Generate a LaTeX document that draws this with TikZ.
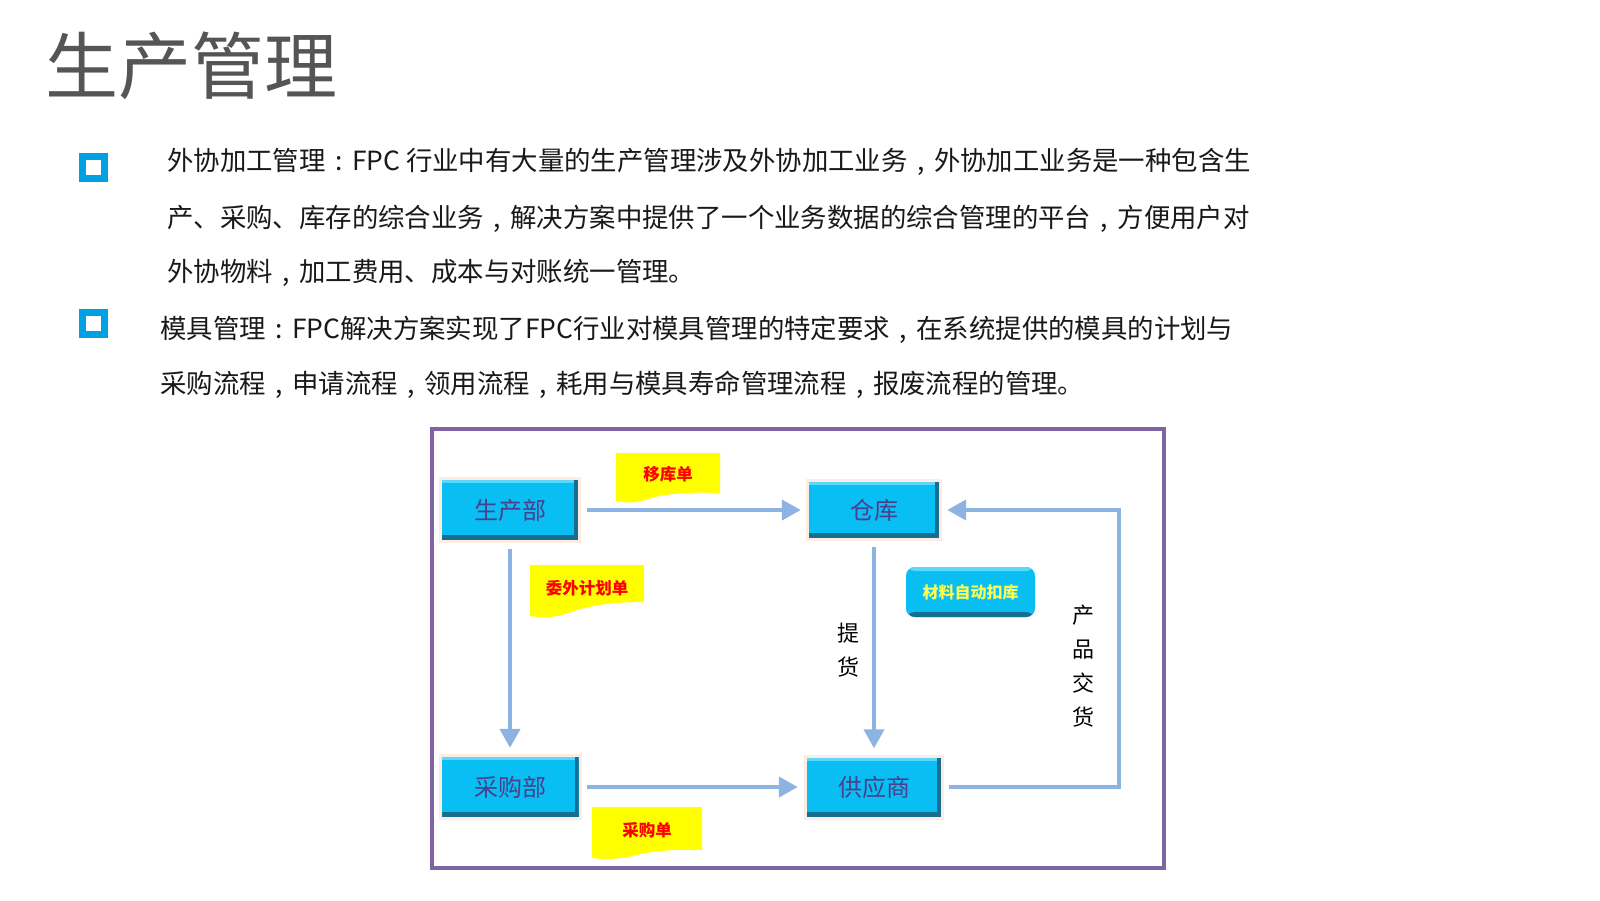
\documentclass[tikz,border=0pt]{standalone}
\usepackage{fontspec}
\setmainfont{Noto Sans CJK SC}
\newfontfamily\cjk{Noto Sans CJK SC}
\usetikzlibrary{arrows.meta,calc}
\newcommand\zcomma{\makebox[1em][c]{,}}
\newcommand\zcolon{\makebox[1em][c]{:}}
\definecolor{boxcyan}{RGB}{8,190,242}
\definecolor{boxdark}{RGB}{22,110,145}
\definecolor{boxlight}{RGB}{90,215,250}
\definecolor{boxtext}{RGB}{75,62,140}
\definecolor{flowblue}{RGB}{141,179,226}
\definecolor{framepurple}{RGB}{128,100,162}
\definecolor{bulletblue}{RGB}{0,160,227}
\definecolor{titlegray}{RGB}{85,85,85}
\definecolor{bodytext}{RGB}{25,25,25}
\definecolor{peach}{RGB}{253,236,226}
\definecolor{noteyellow}{RGB}{255,255,0}
\definecolor{notered}{RGB}{255,0,0}
\definecolor{autoyellow}{RGB}{255,255,80}
\tikzset{
  dept/.style={fill=boxcyan, inner sep=0pt, text=boxtext,
    font=\cjk\fontsize{24}{24}\selectfont,
    preaction={draw=peach, line width=6pt},
    path picture={
      \fill[boxlight] (path picture bounding box.north west) rectangle ([yshift=-3pt]path picture bounding box.north east);
      \fill[boxdark] (path picture bounding box.south west) rectangle ([yshift=5pt]path picture bounding box.south east);
      \fill[boxdark] (path picture bounding box.south east) rectangle ([xshift=-4pt]path picture bounding box.north east);
    }},
  autobox/.style={fill=boxcyan, rounded corners=9pt, inner sep=0pt, text=autoyellow,
    minimum width=129pt, minimum height=50pt,
    font=\cjk\bfseries\fontsize{16}{16}\selectfont,
    path picture={
      \fill[boxlight] (path picture bounding box.north west) rectangle ([yshift=-4pt]path picture bounding box.north east);
      \fill[boxdark] (path picture bounding box.south west) rectangle ([yshift=5pt]path picture bounding box.south east);
    }},
  flow/.style={draw=flowblue, line width=4pt, -{Triangle[length=19pt,width=20pt]}},
  notetext/.style={text=notered, inner sep=0pt, font=\cjk\bfseries\fontsize{16.5}{16.5}\selectfont},
  notefill/.style={fill=noteyellow},
  bodyline/.style={anchor=west, inner sep=0pt, text=bodytext, font=\cjk\fontsize{26.4}{26.4}\selectfont},
  bulletsq/.style={draw=bulletblue, line width=7pt, minimum size=22pt, inner sep=0pt},
  vlabel/.style={align=center, inner sep=0pt, text=black, font=\cjk\fontsize{22}{34}\selectfont}
}
\begin{document}
\begin{tikzpicture}[x=1pt,y=-1pt]
\useasboundingbox (0,0) rectangle (1600,900);
\fill[white] (0,0) rectangle (1600,900);

% title
\node[anchor=west, inner sep=0pt, text=titlegray, font=\cjk\fontsize{73}{73}\selectfont] (title) at (45,66) {生产管理};

% bullets
\node[bulletsq] (b1) at (93.5,167) {};
\node[bulletsq] (b2) at (93.5,323) {};

% body text
\node[bodyline] (l1) at (167,162) {外协加工管理\zcolon FPC 行业中有大量的生产管理涉及外协加工业务\zcomma 外协加工业务是一种包含生};
\node[bodyline] (l2) at (167,219) {产、采购、库存的综合业务\zcomma 解决方案中提供了一个业务数据的综合管理的平台\zcomma 方便用户对};
\node[bodyline] (l3) at (167,273) {外协物料\zcomma 加工费用、成本与对账统一管理。};
\node[bodyline] (l4) at (160,330) {模具管理\zcolon FPC解决方案实现了FPC行业对模具管理的特定要求\zcomma 在系统提供的模具的计划与};
\node[bodyline] (l5) at (160,385) {采购流程\zcomma 申请流程\zcomma 领用流程\zcomma 耗用与模具寿命管理流程\zcomma 报废流程的管理。};

% frame
\draw[framepurple, line width=4pt] (432,429) rectangle (1164,868);

% department boxes
\node[dept, minimum width=136pt, minimum height=60pt] (scb) at (510,510) {生产部};
\node[dept, minimum width=130pt, minimum height=56pt] (ck) at (874,510) {仓库};
\node[dept, minimum width=137pt, minimum height=60pt] (cgb) at (510,787) {采购部};
\node[dept, minimum width=134pt, minimum height=59pt] (gys) at (874,787) {供应商};
\node[autobox] (auto) at (970.5,592) {材料自动扣库};

% connectors
\draw[flow, shorten <=9pt, shorten >=8pt] (scb.east) -- (ck.west);
\draw[flow, shorten <=9pt, shorten >=9pt] (scb.south) -- (cgb.north);
\draw[flow, shorten <=9pt, shorten >=9pt] (ck.south) -- (gys.north);
\draw[flow, shorten <=8pt, shorten >=9pt] (cgb.east) -- (gys.west);
\coordinate (loopx) at (1119,650);
\draw[flow, shorten <=8pt, shorten >=8pt] (gys.east) -- (gys.east -| loopx) -- (ck.east -| loopx) -- (ck.east);

% notes
\fill[notefill] (616,453) -- (720,453) -- (720,493) .. controls (690,492) and (665,493) .. (645,500) .. controls (632,504) and (622,502) .. (616,501) -- cycle;
\node[notetext] (n1) at (668,474) {移库单};
\fill[notefill] (530,565) -- (644,565) -- (644,602) .. controls (612,602) and (590,605) .. (565,614) .. controls (550,619) and (538,617) .. (530,616) -- cycle;
\node[notetext] (n2) at (587,588) {委外计划单};
\fill[notefill] (592,807) -- (702,807) -- (702,850) .. controls (672,849) and (650,851) .. (628,857) .. controls (612,860) and (600,859) .. (592,858) -- cycle;
\node[notetext] (n3) at (647,830) {采购单};

% vertical labels
\node[vlabel] (th) at (848,650) {提\\货};
\node[vlabel] (cpjh) at (1083,666) {产\\品\\交\\货};
\end{tikzpicture}
\end{document}
